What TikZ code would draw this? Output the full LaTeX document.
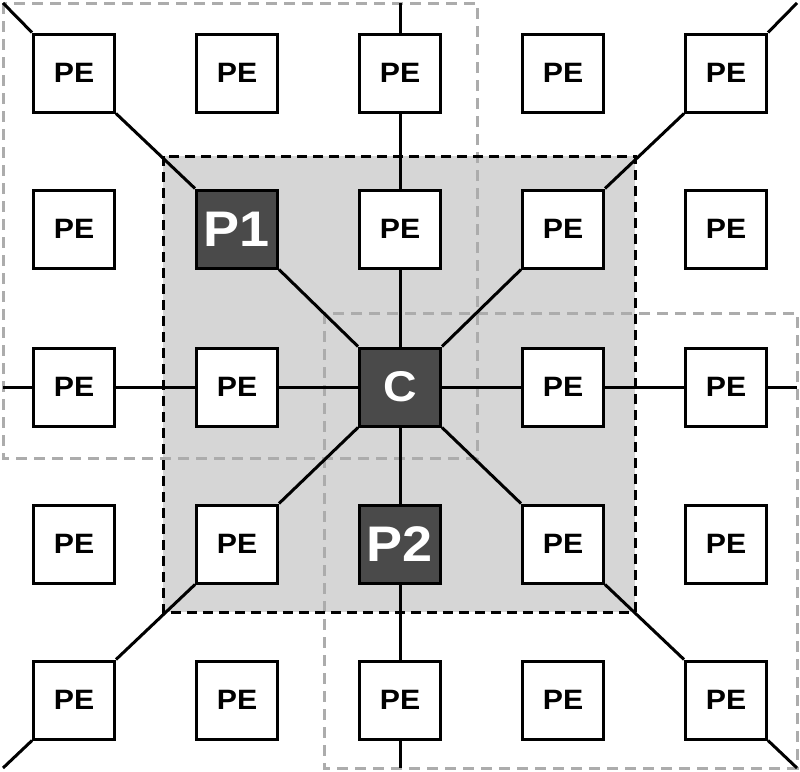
\documentclass[tikz,border=0pt]{standalone}
\usepackage{fontspec}
\setmainfont{Liberation Sans}[FakeStretch=1.08]
\begin{document}
\begin{tikzpicture}[x=1pt,y=-1pt,
  pebox/.style={draw=black,fill=white,line width=3pt,minimum width=81pt,minimum height=78pt,inner sep=0pt,font=\fontsize{28}{28}\selectfont\bfseries},
  hot/.style={pebox,fill=darkbox,text=white},
  conn/.style={line width=3pt,black},
  lightdash/.style={draw=lightdashc,line width=3pt,dash pattern=on 11pt off 7pt},
  darkdash/.style={draw=black,line width=3pt,dash pattern=on 10pt off 6pt}]
\definecolor{darkbox}{RGB}{74,74,74}
\definecolor{shadecol}{RGB}{214,214,214}
\definecolor{lightdashc}{RGB}{172,172,172}
\useasboundingbox (0,0) rectangle (800,771);
% shaded region
\fill[shadecol] (163,156) rectangle (635,612);
% light dashed regions
\draw[lightdash] (3,3) rectangle (477,458);
\draw[lightdash] (324,313) rectangle (797,768);
% dark dashed region
\draw[darkdash] (163,156) rectangle (635,612);
% boxes
\node[pebox] (n00) at (74,73) {PE};
\node[pebox] (n01) at (237,73) {PE};
\node[pebox] (n02) at (400,73) {PE};
\node[pebox] (n03) at (563,73) {PE};
\node[pebox] (n04) at (726,73) {PE};
\node[pebox] (n10) at (74,229) {PE};
\node[hot]   (n11) at (237,229) {\fontsize{50}{50}\selectfont P1};
\node[pebox] (n12) at (400,229) {PE};
\node[pebox] (n13) at (563,229) {PE};
\node[pebox] (n14) at (726,229) {PE};
\node[pebox] (n20) at (74,387) {PE};
\node[pebox] (n21) at (237,387) {PE};
\node[hot]   (n22) at (400,387) {\fontsize{43}{43}\selectfont C};
\node[pebox] (n23) at (563,387) {PE};
\node[pebox] (n24) at (726,387) {PE};
\node[pebox] (n30) at (74,544) {PE};
\node[pebox] (n31) at (237,544) {PE};
\node[hot]   (n32) at (400,544) {\fontsize{50}{50}\selectfont P2};
\node[pebox] (n33) at (563,544) {PE};
\node[pebox] (n34) at (726,544) {PE};
\node[pebox] (n40) at (74,700) {PE};
\node[pebox] (n41) at (237,700) {PE};
\node[pebox] (n42) at (400,700) {PE};
\node[pebox] (n43) at (563,700) {PE};
\node[pebox] (n44) at (726,700) {PE};
% free ends
\coordinate (tN) at (400,3);
\coordinate (tS) at (400,768);
\coordinate (tW) at (3,387);
\coordinate (tE) at (797,387);
\coordinate (tNW) at (3,3);
\coordinate (tNE) at (797,3);
\coordinate (tSW) at (3,768);
\coordinate (tSE) at (797,768);
% connectors
\draw[conn] (tN) -- (n02.north) (n02.south) -- (n12.north) (n12.south) -- (n22.north)
  (n22.south) -- (n32.north) (n32.south) -- (n42.north) (n42.south) -- (tS);
\draw[conn] (tW) -- (n20.west) (n20.east) -- (n21.west) (n21.east) -- (n22.west)
  (n22.east) -- (n23.west) (n23.east) -- (n24.west) (n24.east) -- (tE);
\draw[conn] (tNW) -- (n00.north west) (n00.south east) -- (n11.north west)
  (n11.south east) -- (n22.north west) (n22.south east) -- (n33.north west)
  (n33.south east) -- (n44.north west) (n44.south east) -- (tSE);
\draw[conn] (tNE) -- (n04.north east) (n04.south west) -- (n13.north east)
  (n13.south west) -- (n22.north east) (n22.south west) -- (n31.north east)
  (n31.south west) -- (n40.north east) (n40.south west) -- (tSW);
\end{tikzpicture}
\end{document}
